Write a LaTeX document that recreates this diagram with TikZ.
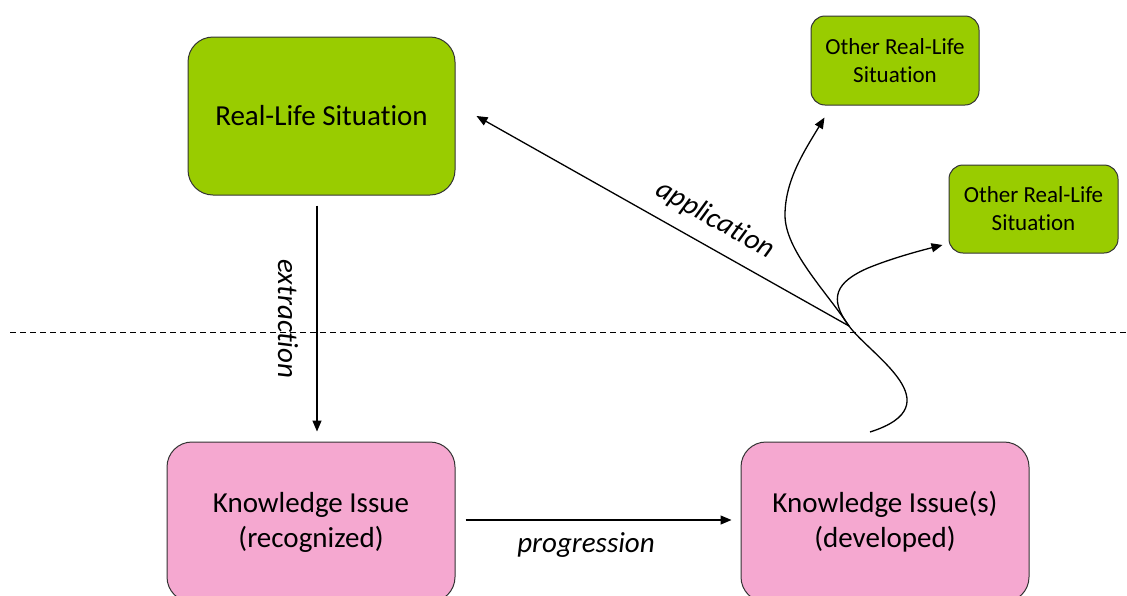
\documentclass[tikz,border=0pt]{standalone}
\usepackage{fontspec}
\setmainfont{Carlito}[Ligatures={NoCommon}]
\usetikzlibrary{arrows.meta,calc}
\definecolor{lgreen}{RGB}{153,204,0}
\definecolor{lpink}{RGB}{245,168,208}
\begin{document}
\begin{tikzpicture}[x=1pt,y=-1pt,
 box/.style={draw=black!80, line width=1pt, rounded corners=25pt, align=center, inner sep=0pt, font=\fontsize{29}{35}\selectfont},
 gbox/.style={box, fill=lgreen},
 pbox/.style={box, fill=lpink},
 sbox/.style={draw=black!80, line width=1pt, fill=lgreen, rounded corners=14pt, align=center, inner sep=0pt, font=\fontsize{23}{28}\selectfont},
 conn/.style={line width=1.3pt, -{Triangle[length=11pt,width=9pt]}},
 plain/.style={line width=1.3pt},
 lab/.style={font=\fontsize{29}{35}\selectfont\itshape, inner sep=0pt}
]
\useasboundingbox (0,0) rectangle (1127,595);
\node[gbox, minimum width=267pt, minimum height=158pt] (rls) at (321.5,116) {Real-Life Situation};
\node[sbox, minimum width=168pt, minimum height=89pt] (oth1) at (895,60.5) {Other Real-Life\\Situation};
\node[sbox, minimum width=169pt, minimum height=88pt] (oth2) at (1033.5,209) {Other Real-Life\\Situation};
\node[pbox, minimum width=288pt, minimum height=160pt] (kir) at (311,522) {Knowledge Issue\\(recognized)};
\node[pbox, minimum width=288pt, minimum height=160pt] (kid) at (885,522) {Knowledge Issue(s)\\(developed)};

\coordinate (dl) at (10,332);
\coordinate (dr) at (1127,332);
\draw[line width=1pt, dash pattern=on 6pt off 4pt] (dl) -- (dr);

\draw[conn] ($(rls.south)+(-4.5,10)$) -- ($(kir.north)+(6,-10)$);
\node[lab, rotate=-90] (extlab) at (288,319) {extraction};
\draw[conn] ($(kir.east)+(10,-2)$) -- ($(kid.west)+(-9,-2)$);
\node[lab] (proglab) at (586,545) {progression};

\coordinate (cs) at (870,432);
\coordinate (cx) at (849,326);
\coordinate (t1) at ($(oth1.south west)+(14,12)$);
\coordinate (t2) at ($(oth2.west)+(-6,36)$);
\draw[plain] (cs) .. controls (955,405) and (870,355) .. (cx);
\draw[conn] (cx) .. controls (825,290) and (785,250) .. (785,215) .. controls (785,180) and (805,150) .. (t1);
\draw[conn] (cx) .. controls (828,298) and (836,282) .. (868,268) .. controls (890,259) and (915,252) .. (t2);
\draw[conn] (cx) -- ($(rls.east)+(21,0)$);
\node[lab, rotate=-29.3] (applab) at (715,220) {application};
\end{tikzpicture}
\end{document}
